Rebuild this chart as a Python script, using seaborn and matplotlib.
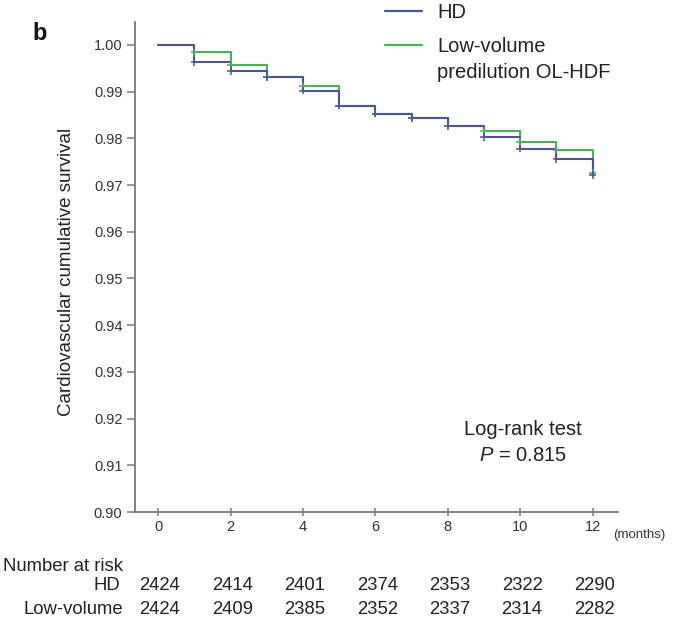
import numpy as np
import pandas as pd
import matplotlib
matplotlib.use("Agg")
import matplotlib.pyplot as plt
from matplotlib.lines import Line2D
import seaborn as sns

# Kaplan-Meier estimates of cardiovascular survival, by month
months = [0, 1, 2, 3, 4, 5, 6, 7, 8, 9, 10, 11, 12]
surv_hd = [1.0000, 0.9964, 0.9944, 0.9931, 0.9902, 0.9870, 0.9853, 0.9844,
           0.9827, 0.9803, 0.9778, 0.9756, 0.9721]
surv_lv = [1.0000, 0.9984, 0.9957, 0.9931, 0.9911, 0.9870, 0.9853, 0.9844,
           0.9827, 0.9816, 0.9793, 0.9776, 0.9726]

# Number-at-risk table
risk_months = [0, 2, 4, 6, 8, 10, 12]
risk_hd = [2424, 2414, 2401, 2374, 2353, 2322, 2290]
risk_lv = [2424, 2409, 2385, 2352, 2337, 2314, 2282]

y_ticks = [0.90, 0.91, 0.92, 0.93, 0.94, 0.95, 0.96, 0.97, 0.98, 0.99, 1.00]
x_ticks = [0, 2, 4, 6, 8, 10, 12]

group_hd = "HD"
group_lv = "Low-volume"
legend_lv_second = "predilution OL-HDF"

sns.set_style("ticks")
plt.rcParams["font.family"] = ["Liberation Sans", "DejaVu Sans"]
plt.rcParams["mathtext.fontset"] = "custom"
plt.rcParams["mathtext.rm"] = "Liberation Sans"
plt.rcParams["mathtext.it"] = "Liberation Sans:italic"

col_hd = "#4b5691"
col_lv = "#4faf5a"
axis_col = "#7a7a7a"
text_col = "#222222"

df = pd.concat([
    pd.DataFrame({"month": months, "survival": surv_lv, "group": group_lv}),
    pd.DataFrame({"month": months, "survival": surv_hd, "group": group_hd}),
], ignore_index=True)

fig = plt.figure(figsize=(6.83, 6.20), dpi=100)
ax = fig.add_axes([135 / 683, 1 - 512 / 620, 483 / 683, 490 / 620])

palette = {group_hd: col_hd, group_lv: col_lv}
sns.lineplot(data=df, x="month", y="survival", hue="group",
             hue_order=[group_lv, group_hd], palette=palette,
             drawstyle="steps-post", estimator=None, sort=True,
             linewidth=1.5, legend=False, ax=ax)

# censoring marks at each step
marks = df[df["month"] > 0]
sns.scatterplot(data=marks, x="month", y="survival", hue="group",
                hue_order=[group_lv, group_hd], palette=palette,
                marker="+", s=30, linewidth=1.1, legend=False, ax=ax,
                zorder=3)

ax.set_xlim(-0.64, 12.70)
ax.set_ylim(0.90, 1.0049)
ax.set_xticks(x_ticks)
ax.set_yticks(y_ticks)
ax.set_yticklabels([f"{v:.2f}" for v in y_ticks])
ax.set_xlabel("")
ax.set_ylabel("Cardiovascular cumulative survival", fontsize=13.5,
              color=text_col)
ax.yaxis.set_label_coords(-0.124, 0.49)

sns.despine(ax=ax)
for side in ("left", "bottom"):
    ax.spines[side].set_color(axis_col)
    ax.spines[side].set_linewidth(1.3)

ax.tick_params(axis="y", direction="out", length=5.5, width=1.1,
               color=axis_col, pad=3.5, labelsize=10.5, labelcolor="#333333")
ax.tick_params(axis="x", direction="inout", length=6, width=1.1,
               color=axis_col, pad=3, labelsize=10.5, labelcolor="#333333")

ax.text(12.56, -0.047, "(months)", transform=ax.get_xaxis_transform(),
        ha="left", va="center", fontsize=9.5, color="#333333")

# log-rank annotation
ax.text(10.08, 0.9176, "Log-rank test", ha="center", va="center",
        fontsize=14.5, color=text_col)
ax.text(10.08, 0.9122, r"$\it{P}$ = 0.815", ha="center", va="center",
        fontsize=14.5, color=text_col)

# number-at-risk table
tr = ax.get_xaxis_transform()
ax.text(-0.97, -0.112, "Number at risk", transform=tr, ha="right",
        va="center", fontsize=13.3, color=text_col)
ax.text(-1.05, -0.149, group_hd, transform=tr, ha="right",
        va="center", fontsize=13.3, color=text_col)
ax.text(-0.97, -0.2, group_lv, transform=tr, ha="right",
        va="center", fontsize=13.3, color=text_col)
for m, a, b in zip(risk_months, risk_hd, risk_lv):
    ax.text(m + 0.05, -0.149, str(a), transform=tr, ha="center",
            va="center", fontsize=13.3, color=text_col)
    ax.text(m + 0.05, -0.2, str(b), transform=tr, ha="center",
            va="center", fontsize=13.3, color=text_col)

# legend
handles = [Line2D([], [], color=col_hd, lw=1.6),
           Line2D([], [], color=col_lv, lw=1.6)]
fig.legend(handles, [group_hd, group_lv], loc="upper left",
           bbox_to_anchor=(385 / 683, 0.9953), frameon=False, fontsize=14.5,
           handlelength=1.85, handletextpad=0.75, borderpad=0,
           borderaxespad=0, labelspacing=0.75, labelcolor=text_col)
fig.text(437 / 683, 1 - 72 / 620, legend_lv_second, ha="left", va="center",
         fontsize=14.5, color=text_col)

fig.text(32 / 683, 1 - 40 / 620, "b", fontsize=17, fontweight="bold",
         ha="left", va="baseline", color="#111111")

fig.savefig("out.png", dpi=100)
